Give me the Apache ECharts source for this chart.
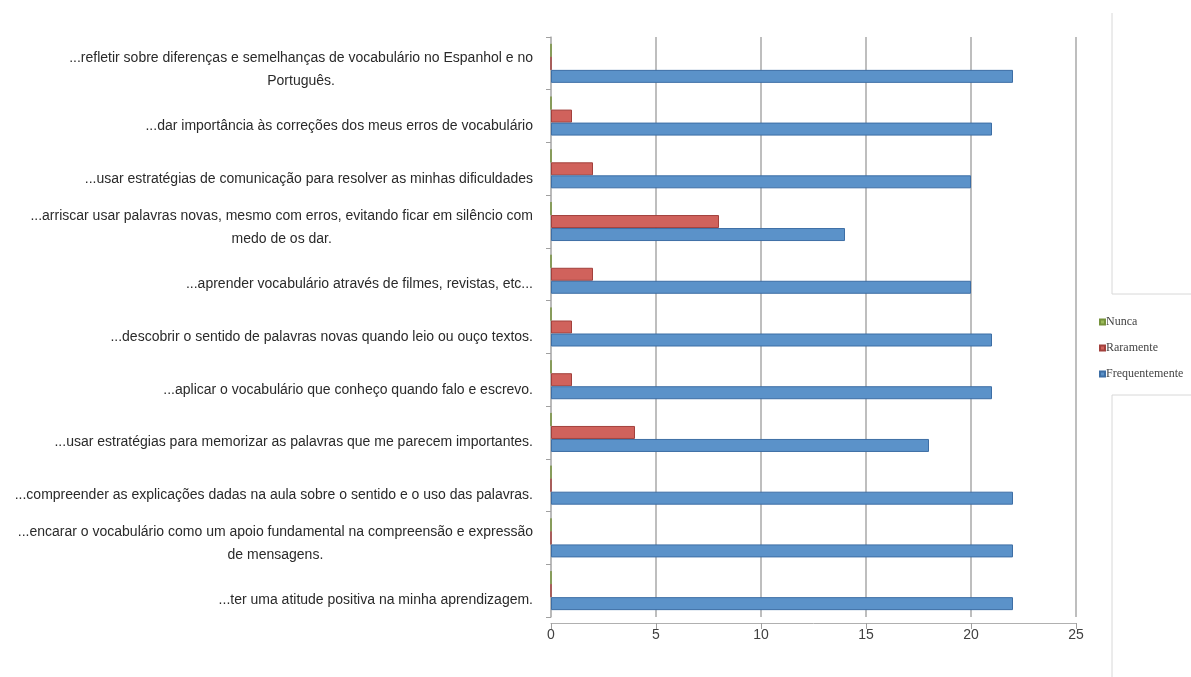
<!DOCTYPE html>
<html>
<head>
<meta charset="utf-8">
<script src="https://cdn.jsdelivr.net/npm/echarts@6/dist/echarts.min.js"></script>
<style>
html,body{margin:0;padding:0;background:#fff;}
#chart{width:1191px;height:677px;}
</style>
</head>
<body>
<div id="chart"></div>
<script>
// Categories, bottom to top
const categories = [
  '...ter uma atitude positiva na minha aprendizagem.',
  '...encarar o vocabulário como um apoio fundamental na compreensão e expressão\nde mensagens.',
  '...compreender as explicações dadas na aula sobre o sentido e o uso das palavras.',
  '...usar estratégias para memorizar as palavras que me parecem importantes.',
  '...aplicar o vocabulário que conheço quando falo e escrevo.',
  '...descobrir o sentido de palavras novas quando leio ou ouço textos.',
  '...aprender vocabulário através de filmes, revistas, etc...',
  '...arriscar usar palavras novas, mesmo com erros, evitando ficar em silêncio com\nmedo de os dar.',
  '...usar estratégias de comunicação para resolver as minhas dificuldades',
  '...dar importância às correções dos meus erros de vocabulário',
  '...refletir sobre diferenças e semelhanças de vocabulário no Espanhol e no\nPortuguês.'
];
const seriesNames = ['Nunca', 'Raramente', 'Frequentemente'];
const nunca          = [0, 0, 0, 0, 0, 0, 0, 0, 0, 0, 0];
const raramente      = [0, 0, 0, 4, 1, 1, 2, 8, 2, 1, 0];
const frequentemente = [22, 22, 22, 18, 21, 21, 20, 14, 20, 21, 22];
const xTicks = [0, 5, 10, 15, 20, 25];

const chart = echarts.init(document.getElementById('chart'), null, {renderer: 'canvas'});

function barStyle(fill, edge) {
  return {color: fill, borderColor: edge, borderWidth: 1};
}

const option = {
  animation: false,
  backgroundColor: '#ffffff',
  grid: {left: 551, right: 115, top: 37, bottom: 60, containLabel: false},
  legend: {
    orient: 'vertical',
    left: 1094,
    top: 311,
    itemWidth: 5,
    itemHeight: 5,
    itemGap: 14,
    icon: 'rect',
    data: seriesNames,
    textStyle: {fontFamily: 'Liberation Serif', fontSize: 12, color: '#444', padding: [0, 0, 0, -4]}
  },
  xAxis: {
    type: 'value',
    min: 0,
    max: 25,
    interval: 5,
    offset: 6,
    axisLine: {show: true, lineStyle: {color: '#b0b0b0', width: 1}},
    axisTick: {show: true, length: 6, lineStyle: {color: '#a0a0a0'}},
    axisLabel: {
      margin: 5,
      fontFamily: 'Liberation Sans',
      fontSize: 14,
      color: '#404040',
      formatter: function (v) { return xTicks.indexOf(v) >= 0 ? String(v) : ''; }
    },
    splitLine: {show: true, lineStyle: {color: '#a8a8a8', width: 1.5}}
  },
  yAxis: {
    type: 'category',
    data: categories,
    axisLine: {show: true, lineStyle: {color: '#b8b8b8', width: 1.5}},
    axisTick: {show: true, length: 5, lineStyle: {color: '#a0a0a0'}},
    axisLabel: {
      margin: 18,
      interval: 0,
      formatter: function (v) {
        const lines = v.split('\n');
        const tag = lines.length > 1 ? 'm' : 's';
        return lines.map(function (l) { return '{' + tag + '|' + l + '}'; }).join('\n');
      },
      rich: {
        s: {align: 'center', fontFamily: 'Liberation Sans', fontSize: 14, color: '#2a2a2a', lineHeight: 23, padding: [20, 0, 0, 0]},
        m: {align: 'center', fontFamily: 'Liberation Sans', fontSize: 14, color: '#2a2a2a', lineHeight: 23, padding: [12, 0, 0, 0]}
      }
    }
  },
  graphic: [
    {type: 'polyline', shape: {points: [[1112, 13], [1112, 294], [1191, 294]]}, style: {stroke: '#d8d8d8', fill: null, lineWidth: 1}, silent: true},
    {type: 'polyline', shape: {points: [[1191, 395], [1112, 395], [1112, 677]]}, style: {stroke: '#d8d8d8', fill: null, lineWidth: 1}, silent: true}
  ],
  series: [
    {name: seriesNames[0], type: 'bar', data: nunca, barWidth: 13, barGap: '0%',
     itemStyle: barStyle('#9bbb59', '#76923c')},
    {name: seriesNames[1], type: 'bar', data: raramente, barWidth: 13, barGap: '0%',
     itemStyle: barStyle('#d0625c', '#a2403c')},
    {name: seriesNames[2], type: 'bar', data: frequentemente, barWidth: 13, barGap: '0%',
     itemStyle: barStyle('#5b92c9', '#3d6ea5')}
  ]
};
chart.setOption(option);
</script>
</body>
</html>
